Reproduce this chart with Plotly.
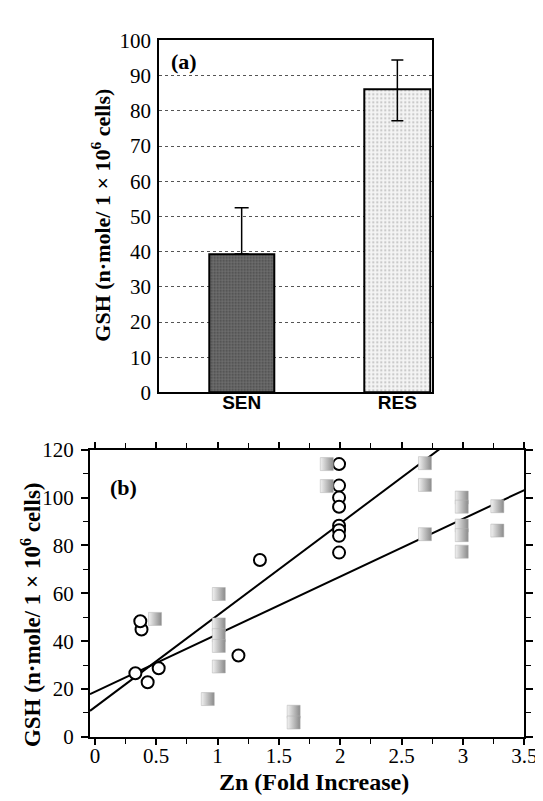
import numpy as np
import plotly.graph_objects as go

# ---------------- data: panel (a) ----------------
cats = ["SEN", "RES"]
gsh_mean = [39.3, 86.0]
gsh_err_plus = [13.2, 8.4]
gsh_err_minus = [0.0, 8.8]

# ---------------- data: panel (b) ----------------
circ_x = [0.33, 0.43, 0.52, 0.38, 0.37, 1.17, 1.345, 1.99, 1.99, 1.99, 1.99, 1.99, 1.99, 1.99, 1.99]
circ_y = [26.6, 22.8, 28.7, 44.9, 48.3, 34.0, 73.9, 114.0, 105.0, 100.0, 96.2, 88.2, 86.4, 84.0, 77.0]

sq_x = [0.49, 1.01, 1.01, 1.01, 1.01, 1.01, 0.92, 1.62, 1.62, 1.89, 1.89,
        2.69, 2.69, 2.69, 2.99, 2.99, 2.99, 2.99, 2.99, 3.28, 3.28]
sq_y = [49.3, 59.7, 47.0, 42.5, 38.0, 29.4, 15.8, 10.5, 6.0, 114.0, 104.8,
        114.4, 105.3, 84.7, 100.0, 96.2, 88.3, 84.3, 77.4, 96.4, 86.2]

fit1_intercept, fit1_slope = 12.4, 38.4
fit2_intercept, fit2_slope = 18.8, 24.1

xb_ticks = [0, 0.5, 1, 1.5, 2, 2.5, 3, 3.5]
xb_ticklabels = ["0", "0.5", "1", "1.5", "2", "2.5", "3", "3.5"]
yb_ticks = [0, 20, 40, 60, 80, 100, 120]
ya_ticks = [0, 10, 20, 30, 40, 50, 60, 70, 80, 90, 100]

W, H = 543, 801
def px(x):
    return x / W
def py(y):
    return 1 - y / H

SERIF = "Liberation Serif"
SANS = "Liberation Sans"

fig = go.Figure()

# panel (a) bars
fig.add_trace(go.Bar(
    x=[cats[0]], y=[gsh_mean[0]], width=0.42,
    marker=dict(color="#5e5e5e", line=dict(color="black", width=2),
                pattern=dict(shape=".", fgcolor="#1e1e1e", bgcolor="#707070", size=3, solidity=0.4)),
    error_y=dict(type="data", symmetric=False, array=[gsh_err_plus[0]], arrayminus=[gsh_err_minus[0]],
                 color="black", thickness=1.5, width=7),
    xaxis="x", yaxis="y", showlegend=False))
fig.add_trace(go.Bar(
    x=[cats[1]], y=[gsh_mean[1]], width=0.42,
    marker=dict(color="#eeeeee", line=dict(color="black", width=2),
                pattern=dict(shape=".", fgcolor="#9a9a9a", bgcolor="#f4f4f4", size=4, solidity=0.25)),
    error_y=dict(type="data", symmetric=False, array=[gsh_err_plus[1]], arrayminus=[gsh_err_minus[1]],
                 color="black", thickness=1.5, width=6),
    xaxis="x", yaxis="y", showlegend=False))

# panel (b) fit lines
xl = np.linspace(-0.04, 3.5, 50)
fig.add_trace(go.Scatter(x=xl, y=fit1_intercept + fit1_slope * xl, mode="lines",
                         line=dict(color="black", width=2), xaxis="x2", yaxis="y2", showlegend=False))
fig.add_trace(go.Scatter(x=xl, y=fit2_intercept + fit2_slope * xl, mode="lines",
                         line=dict(color="black", width=2), xaxis="x2", yaxis="y2", showlegend=False))

# panel (b) circles
fig.add_trace(go.Scatter(x=circ_x, y=circ_y, mode="markers",
                         marker=dict(symbol="circle", size=12, color="white",
                                     line=dict(color="black", width=2)),
                         xaxis="x2", yaxis="y2", showlegend=False))
# panel (b) squares
fig.add_trace(go.Scatter(x=sq_x, y=sq_y, mode="markers",
                         marker=dict(symbol="square", size=13, color="#f2f2f2",
                                     gradient=dict(type="horizontal", color="#8a8a8a"),
                                     line=dict(color="#b0b0b0", width=0.5)),
                         xaxis="x2", yaxis="y2", showlegend=False))

tickfont = dict(family=SERIF, size=21, color="black")

fig.update_layout(
    width=W, height=H, margin=dict(l=0, r=0, t=0, b=0),
    paper_bgcolor="white", plot_bgcolor="white",
    bargap=0,
    xaxis=dict(domain=[px(155), px(434)], type="category", range=[-0.529, 1.22],
               showline=True, linecolor="black", linewidth=2, mirror=True,
               ticks="", showgrid=False, zeroline=False,
               tickfont=dict(family=SANS, size=19, color="black"),
               tickprefix="<b>", ticksuffix="</b>", ticklabelstandoff=-8, anchor="y"),
    yaxis=dict(domain=[py(384), py(21)], range=[0, 100], tickvals=ya_ticks,
               showline=True, linecolor="black", linewidth=2, mirror=True,
               ticks="", showgrid=True, gridcolor="#555", griddash="dot", gridwidth=1,
               zeroline=False, tickfont=tickfont, ticklabelstandoff=2, anchor="x"),
    xaxis2=dict(domain=[px(84), px(529)], range=[-0.04, 3.5], tickvals=xb_ticks,
                ticktext=xb_ticklabels,
                showline=True, linecolor="black", linewidth=2, mirror="allticks",
                ticks="outside", ticklen=6, tickwidth=1.5, tickcolor="black",
                minor=dict(dtick=0.25, tick0=0, ticks="outside", ticklen=5, tickwidth=1.2, tickcolor="black"),
                showgrid=False, zeroline=False, tickfont=tickfont, ticklabelstandoff=-7, anchor="y2"),
    yaxis2=dict(domain=[py(739), py(443)], range=[0, 120], tickvals=yb_ticks,
                showline=True, linecolor="black", linewidth=2, mirror="allticks",
                ticks="outside", ticklen=7, tickwidth=1.5, tickcolor="black",
                minor=dict(dtick=10, tick0=0, ticks="outside", ticklen=5, tickwidth=1.2, tickcolor="black"),
                showgrid=False, zeroline=False, tickfont=tickfont, ticklabelstandoff=3, anchor="x2"),
)

ytitle = "<b>GSH (n·mole/ 1 × 10<sup>6</sup> cells)</b>"
fig.add_annotation(x=px(95), y=py(201), xref="paper", yref="paper", text=ytitle,
                   textangle=-90, showarrow=False, font=dict(family=SERIF, size=22, color="black"),
                   xanchor="center", yanchor="middle")
fig.add_annotation(x=px(24), y=py(613), xref="paper", yref="paper", text=ytitle,
                   textangle=-90, showarrow=False, font=dict(family=SERIF, size=23, color="black"),
                   xanchor="center", yanchor="middle")
fig.add_annotation(x=px(314), y=py(786), xref="paper", yref="paper",
                   text="<b>Zn (Fold Increase)</b>", showarrow=False,
                   font=dict(family=SERIF, size=24, color="black"), xanchor="center", yanchor="middle")
fig.add_annotation(x=px(180), y=py(43), xref="paper", yref="paper", text="<b>(a)</b>",
                   showarrow=False, font=dict(family=SERIF, size=22, color="black"),
                   xanchor="center", yanchor="middle")
fig.add_annotation(x=px(118), y=py(482), xref="paper", yref="paper", text="<b>(b)</b>",
                   showarrow=False, font=dict(family=SERIF, size=22, color="black"),
                   xanchor="center", yanchor="middle")

fig.write_html("out.html")
